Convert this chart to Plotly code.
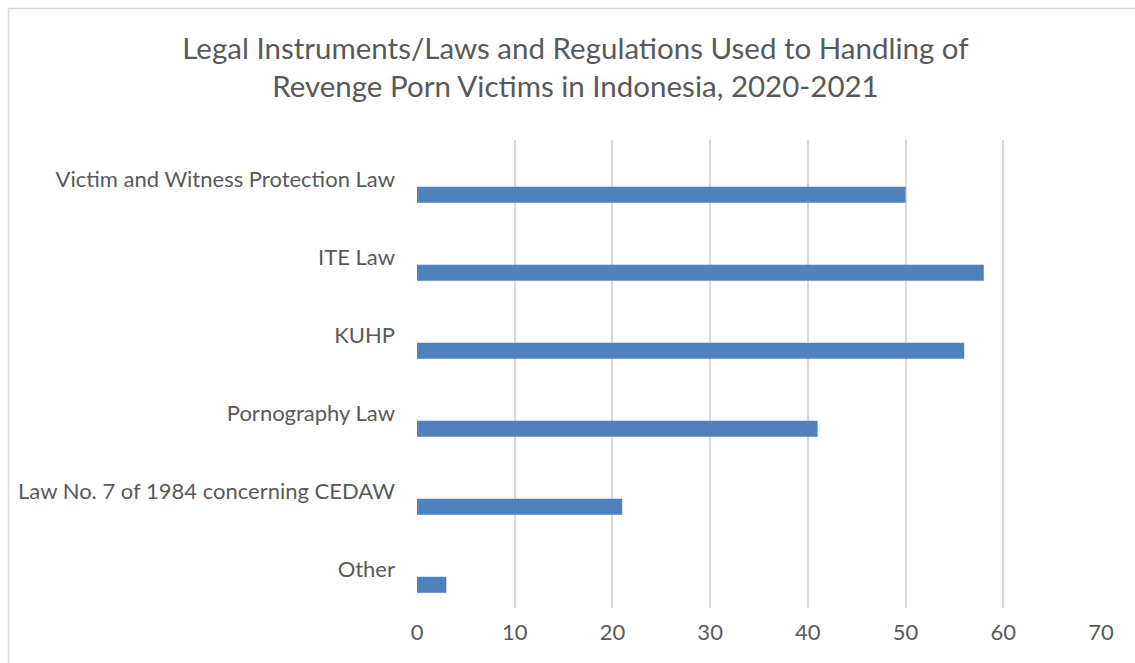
import plotly.graph_objects as go

categories = [
    "Victim and Witness Protection Law",
    "ITE Law",
    "KUHP",
    "Pornography Law",
    "Law No. 7 of 1984 concerning CEDAW",
    "Other",
]
values = [50, 58, 56, 41, 21, 3]
x_ticks = [0, 10, 20, 30, 40, 50, 60, 70]

W, H = 1135, 663
ml, mr, mt, mb = 417, 34, 140, 55
pw, ph = W - ml - mr, H - mt - mb

fig = go.Figure(
    go.Bar(
        x=values,
        y=categories,
        orientation="h",
        marker=dict(color="#4F81BD", line=dict(width=0)),
        width=0.205,
        offset=0.1,
    )
)

fig.update_layout(
    width=W,
    height=H,
    margin=dict(l=ml, r=mr, t=mt, b=mb, pad=0),
    paper_bgcolor="white",
    plot_bgcolor="white",
    showlegend=False,
    font=dict(family="Lato", color="#595959", size=22),
    title=dict(
        text="Legal Instruments/Laws and Regulations Used to Handling of<br>Revenge Porn Victims in Indonesia, 2020-2021",
        x=0.507,
        xref="container",
        xanchor="center",
        y=1 - 59 / H,
        yref="container",
        yanchor="middle",
        font=dict(family="Lato", size=29.5, color="#595959"),
    ),
    xaxis=dict(
        range=[0, 70],
        tickvals=x_ticks,
        showgrid=True,
        gridcolor="#D9D9D9",
        gridwidth=1.5,
        zeroline=False,
        showline=False,
        ticks="",
        ticklabelstandoff=9,
        tickfont=dict(size=22, color="#595959"),
        fixedrange=True,
    ),
    yaxis=dict(
        type="category",
        autorange="reversed",
        showgrid=False,
        showline=False,
        zeroline=False,
        ticks="",
        ticklabelstandoff=21,
        tickfont=dict(size=22, color="#595959"),
    ),
)

# chart border (only top and left edges fall inside the picture)
fig.add_shape(
    type="rect",
    xref="paper",
    yref="paper",
    x0=(8.5 - ml) / pw,
    x1=(1160 - ml) / pw,
    y0=(H - mb - 700) / ph,
    y1=(H - mb - 8.5) / ph,
    line=dict(color="#D9D9D9", width=1.5),
    fillcolor="rgba(0,0,0,0)",
    layer="below",
)

fig.write_html("out.html")
